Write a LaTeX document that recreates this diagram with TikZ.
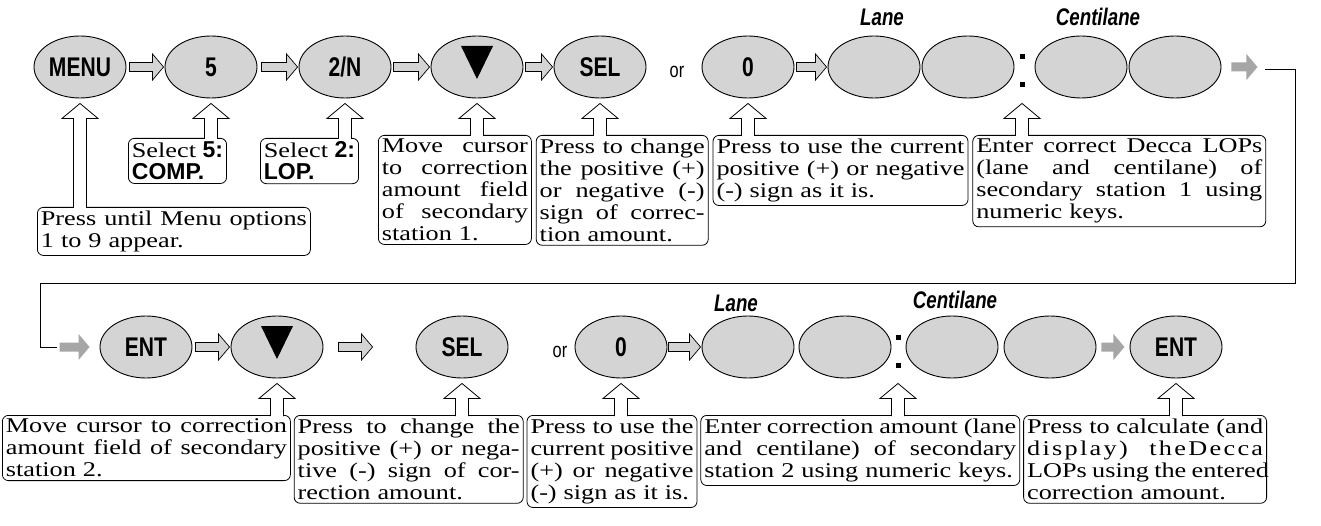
\documentclass[tikz,border=0pt]{standalone}
\usepackage{fontspec}
\setmainfont{Liberation Serif}[FakeStretch=1.25]
\setsansfont{Liberation Sans}
\newfontfamily\keyfont{Liberation Sans}[FakeStretch=0.78]
\usetikzlibrary{calc,shapes.geometric}
\tikzset{
  key/.style={ellipse,draw,line width=.9pt,fill=black!17,minimum width=92pt,minimum height=62pt,inner sep=0pt,
    font=\keyfont\bfseries\fontsize{27}{27}\selectfont},
  note/.style={draw,line width=.8pt,rounded corners=6pt,inner sep=3.5pt,anchor=north west,align=left,
    font=\fontsize{21}{22}\selectfont},
  tag/.style={font=\keyfont\bfseries\itshape\fontsize{24}{24}\selectfont},
  ortext/.style={font=\keyfont\fontsize{21}{21}\selectfont},
  fatarr/.style={draw,line width=.7pt,fill=black!17,
    to path={let \p1=(\tikztostart),\p2=(\tikztotarget) in
      (\x1,\y1+4.5pt) -- (\x2-11pt,\y1+4.5pt) -- (\x2-11pt,\y1+13pt) -- (\x2,\y1)
      -- (\x2-11pt,\y1-13pt) -- (\x2-11pt,\y1-4.5pt) -- (\x1,\y1-4.5pt) -- cycle}},
  ghostarr/.style={fatarr,draw=none,fill=black!35},
  uparr/.style={draw,line width=.8pt,fill=white,
    to path={let \p1=(\tikztostart),\p2=(\tikztotarget) in
      (\x2-6.5pt,\y1-1pt) -- (\x2-6.5pt,\y2-20pt) -- (\x2-18pt,\y2-20pt) -- (\x2,\y2-5pt)
      -- (\x2+18pt,\y2-20pt) -- (\x2+6.5pt,\y2-20pt) -- (\x2+6.5pt,\y1-1pt)}},
  wire/.style={draw,line width=.9pt}
}
\newcommand{\bsf}[1]{{\sffamily\bfseries\fontsize{23}{22}\selectfont #1}}
% one justified line of a note
\newcommand{\jl}[1]{\makebox[\hsize][s]{\spaceskip=.25em plus 1fil\relax #1}\\}
\begin{document}
\begin{tikzpicture}[x=1pt,y=-1pt]
\useasboundingbox (0,0) rectangle (1321,526);

% top row of keys
\node[key] (menu)  at (80,67)   {MENU};
\node[key] (five)  at (211,67)  {5};
\node[key] (twon)  at (345,67)  {2/N};
\node[key] (down1) at (477,67)  {};
\node[key] (sel1)  at (600,67)  {SEL};
\node[ortext] (or1) at (677,72) {or};
\node[key] (zero1) at (748,67)  {0};
\node[key] (lane1a) at (874,67) {};
\node[key] (lane1b) at (968,67) {};
\node[key] (cent1a) at (1081,67) {};
\node[key] (cent1b) at (1175,67) {};
\coordinate (col1) at (1022,71);
\fill ([shift={(-2.5,-16.5)}]col1) rectangle ++(5,5);
\fill ([shift={(-2.5,11.5)}]col1) rectangle ++(5,5);
\fill ([shift={(-16,-21)}]down1.center) -- ++(32,0) -- ++(-16,33) -- cycle;
\node[tag] (lanetag1) at (882,17) {Lane};
\node[tag] (centtag1) at (1098,17) {Centilane};

\draw[fatarr] ([xshift=3pt]menu.east) to ([xshift=-1pt]five.west);
\draw[fatarr] ([xshift=4pt]five.east) to ([xshift=-1pt]twon.west);
\draw[fatarr] ([xshift=2pt]twon.east) to ([xshift=-1pt]down1.west);
\draw[fatarr] ([xshift=2pt]down1.east) to ([xshift=-1pt]sel1.west);
\draw[fatarr] ([xshift=2pt]zero1.east) to ([xshift=-1pt]lane1a.west);
\draw[ghostarr] ([xshift=10pt]cent1b.east) to ([xshift=36pt]cent1b.east);

% top row of notes
\node[note,text width=266pt] (b1) at (37,207) {\jl{Press until Menu options}1 to 9 appear.};
\node[note] (b2) at (128,138) {Select \bsf{5:}\\\bsf{COMP.}};
\node[note] (b3) at (260,138) {Select \bsf{2:}\\\bsf{LOP.}};
\node[note,text width=146pt] (b4) at (378,135)
  {\jl{Move cursor}\jl{to correction}\jl{amount field}\jl{of secondary}station 1.};
\node[note,text width=165pt] (b5) at ([xshift=4pt]b4.north east)
  {\jl{Press to change}\jl{the positive (+)}\jl{or negative (-)}\jl{sign of correc-}tion amount.};
\node[note,text width=248pt] (b6) at ([xshift=4pt]b5.north east)
  {\jl{Press to use the current}\jl{positive (+) or negative}(-) sign as it is.};
\node[note,text width=286pt] (b7) at ([xshift=4pt]b6.north east)
  {\jl{Enter correct Decca LOPs}\jl{(lane and centilane) of}\jl{secondary station 1 using}numeric keys.};

\draw[uparr] (menu |- b1.north) to (menu.south);
\draw[uparr] (five |- b2.north) to (five.south);
\draw[uparr] (twon |- b3.north) to (twon.south);
\draw[uparr] (down1 |- b4.north) to (down1.south);
\draw[uparr] (sel1 |- b5.north) to (sel1.south);
\draw[uparr] (zero1 |- b6.north) to (zero1.south);
\draw[uparr] (col1 |- b7.north) to (col1 |- cent1a.south);

% wrap-around line
\coordinate (wA) at (1265,69);
\coordinate (wB) at (1295,283);
\coordinate (wC) at (40,283);
\coordinate (wD) at (57,347);
\draw[wire] (wA) -| (wB) -- (wC) |- (wD);

% bottom row of keys
\node[key] (ent1)  at (146,347) {ENT};
\node[key] (down2) at (277,347) {};
\node[key] (sel2)  at (462,347) {SEL};
\node[ortext] (or2) at (560,352) {or};
\node[key] (zero2) at (621,347) {0};
\node[key] (lane2a) at (748,347) {};
\node[key] (lane2b) at (845,347) {};
\node[key] (cent2a) at (952,347) {};
\node[key] (cent2b) at (1050,347) {};
\node[key] (ent2)  at (1176,347) {ENT};
\coordinate (col2) at (898,351);
\fill ([shift={(-2.5,-16.5)}]col2) rectangle ++(5,5);
\fill ([shift={(-2.5,11.5)}]col2) rectangle ++(5,5);
\fill ([shift={(-16,-21)}]down2.center) -- ++(32,0) -- ++(-16,33) -- cycle;
\node[tag] (lanetag2) at (736,303) {Lane};
\node[tag] (centtag2) at (955,300) {Centilane};

\draw[ghostarr] ([xshift=-40pt]ent1.west) to ([xshift=-10pt]ent1.west);
\draw[fatarr] ([xshift=3pt]ent1.east) to ([xshift=-1pt]down2.west);
\draw[fatarr] ([xshift=15pt]down2.east) to ([xshift=-43pt]sel2.west);
\draw[fatarr] ([xshift=1pt]zero2.east) to ([xshift=-1pt]lane2a.west);
\draw[ghostarr] ([xshift=5pt]cent2b.east) to ([xshift=28pt]cent2b.east);

% bottom row of notes
\node[note,text width=281pt] (c1) at (2,415)
  {\jl{Move cursor to correction}\jl{amount field of secondary}station 2.};
\node[note,text width=222pt] (c2) at ([xshift=3pt]c1.north east)
  {\jl{Press to change the}\jl{positive (+) or nega-}\jl{tive (-) sign of cor-}rection amount.};
\node[note,text width=163pt] (c3) at ([xshift=3pt]c2.north east)
  {\jl{Press to use the}\jl{current positive}\jl{(+) or negative}(-) sign as it is.};
\node[note,text width=312pt] (c4) at ([xshift=3pt]c3.north east)
  {\jl{Enter correction amount (lane}\jl{and centilane) of secondary}station 2 using numeric keys.};
\node[note,text width=236pt] (c5) at ([xshift=3pt]c4.north east)
  {\jl{Press to calculate (and}\jl{\addfontfeature{LetterSpace=11}display) theDecca}\jl{LOPs using the entered}correction amount.};

\draw[uparr] (down2 |- c1.north) to (down2.south);
\draw[uparr] (sel2 |- c2.north) to (sel2.south);
\draw[uparr] (zero2 |- c3.north) to (zero2.south);
\draw[uparr] (col2 |- c4.north) to (col2 |- cent2a.south);
\draw[uparr] (ent2 |- c5.north) to (ent2.south);
\end{tikzpicture}
\end{document}
